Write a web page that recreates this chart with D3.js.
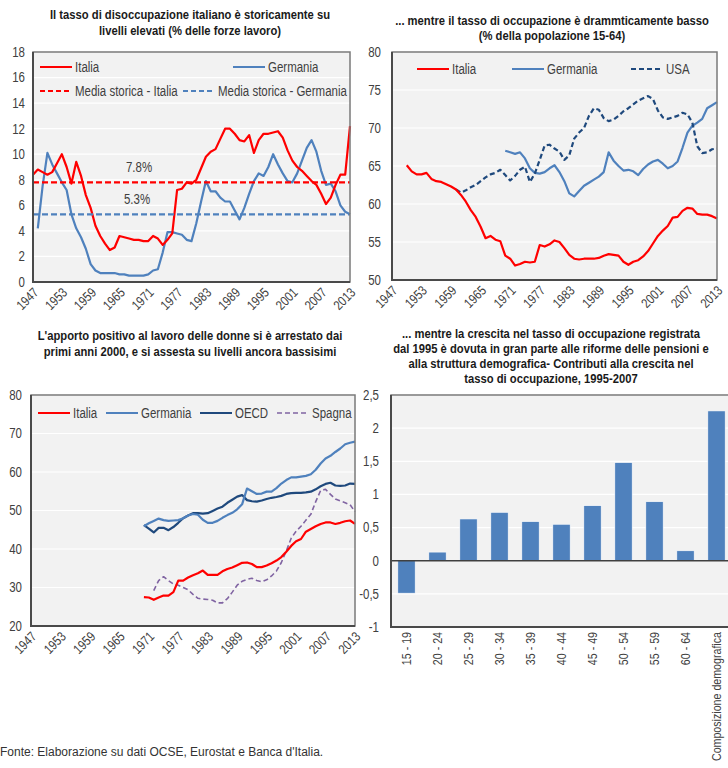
<!DOCTYPE html>
<html><head><meta charset="utf-8">
<script src="https://cdn.jsdelivr.net/npm/d3@7"></script>
<style>
body{margin:0;background:#fff;}
text{font-family:"Liberation Sans",Arial,sans-serif;}
</style></head>
<body>
<script>
// ---------- DATA ----------
const yearTicks = [1947,1953,1959,1965,1971,1977,1983,1989,1995,2001,2007,2013];

// Panel 1: unemployment rate (% labour force)
const unempTicks = [0,2,4,6,8,10,12,14,16,18];
const unempItaliaStart = 1947;
const unempItalia = [8.4,8.8,8.6,8.4,8.6,9.3,10.0,9.0,7.7,9.4,8.3,6.8,5.8,4.4,3.6,3.0,2.5,2.7,3.6,3.5,3.4,3.3,3.3,3.2,3.2,3.6,3.4,2.9,3.3,3.8,7.2,7.3,7.8,7.7,8.0,8.9,9.8,10.2,10.4,11.2,12.0,12.0,11.6,11.1,11.0,11.5,10.1,11.1,11.6,11.6,11.7,11.8,11.3,10.3,9.5,9.0,8.7,8.3,7.9,7.6,6.9,6.1,6.6,7.6,8.4,8.4,12.2];
const unempGermaniaStart = 1948;
const unempGermania = [4.2,7.5,10.1,9.2,8.5,7.8,7.2,5.3,4.2,3.5,2.6,1.4,0.9,0.7,0.7,0.7,0.7,0.6,0.6,0.5,0.5,0.5,0.5,0.6,0.9,1.0,2.3,3.9,3.9,3.8,3.7,3.3,3.2,4.6,6.3,7.9,7.1,7.1,6.6,6.3,6.3,5.6,4.9,5.8,6.9,7.9,8.5,8.3,9.0,10.0,9.2,8.5,7.9,7.8,8.5,9.5,10.5,11.1,10.2,8.7,7.6,7.7,7.1,6.0,5.5,5.3];
const mediaItalia = 7.8;
const mediaGermania = 5.3;

// Panel 2: employment rate (% population 15-64)
const empTicks = [50,55,60,65,70,75,80];
const empItaliaStart = 1950;
const empItalia = [65.1,64.3,63.9,63.9,64.1,63.3,63.0,62.9,62.6,62.3,61.9,61.2,60.3,59.2,58.3,57.0,55.5,55.8,55.3,55.1,53.2,52.8,51.9,52.1,52.4,52.3,52.4,54.6,54.4,54.7,55.2,55.0,54.2,53.3,52.8,52.7,52.8,52.8,52.8,52.9,53.2,53.4,53.3,53.2,52.4,52.0,52.4,52.6,53.1,53.8,54.8,55.8,56.5,57.1,58.2,58.3,59.1,59.5,59.4,58.7,58.6,58.6,58.4,58.1];
const empGermaniaStart = 1970;
const empGermania = [67.0,66.8,66.6,66.8,66.0,64.7,64.1,64.0,64.2,64.7,65.1,64.2,63.0,61.4,61.0,61.7,62.4,62.8,63.2,63.6,64.2,66.8,65.7,65.0,64.4,64.5,64.3,63.8,64.6,65.2,65.6,65.8,65.3,64.7,65.0,65.6,67.4,69.4,70.3,70.7,71.2,72.6,73.0,73.4];
const empUSAStart = 1960;
const empUSA = [61.9,61.5,61.8,62.2,62.5,63.0,63.5,63.9,64.1,64.5,63.8,63.1,63.7,64.5,64.9,62.9,64.0,65.8,67.7,67.8,67.3,66.9,65.8,66.4,68.6,69.4,70.0,71.6,72.6,72.4,71.3,70.9,71.1,71.6,72.2,72.6,73.1,73.6,73.9,74.2,73.8,72.3,71.4,71.2,71.4,71.6,72.0,71.8,70.7,67.6,66.7,66.8,67.2,67.3];

// Panel 3: female employment rate
const womenTicks = [20,30,40,50,60,70,80];
const womenItaliaStart = 1970;
const womenItalia = [27.5,27.4,26.8,27.4,27.9,27.9,28.8,31.8,31.8,32.6,33.2,33.7,34.4,33.3,33.3,33.3,34.2,34.8,35.2,35.8,36.4,36.5,36.1,35.3,35.3,35.7,36.3,37.0,37.9,39.3,40.8,42.0,42.6,44.5,45.2,45.9,46.5,46.9,46.9,46.5,46.8,47.2,47.4,46.5];
const womenGermaniaStart = 1970;
const womenGermania = [45.9,46.7,47.3,47.9,47.5,47.3,47.4,47.5,48.0,48.7,49.1,48.9,47.6,46.8,46.8,47.3,48.1,48.8,49.4,50.3,51.6,55.7,55.0,54.3,54.4,54.9,54.9,55.8,57.0,57.9,58.6,58.6,58.8,59.0,59.4,60.6,62.2,63.5,64.2,65.2,66.1,67.2,67.6,67.9];
const womenOECDStart = 1970;
const womenOECD = [46.2,45.3,44.3,45.5,45.5,44.9,45.7,46.8,48.0,48.7,49.3,49.3,49.2,49.3,49.9,50.5,51.0,52.0,52.8,53.6,54.0,52.7,52.4,52.3,52.6,53.0,53.3,53.5,53.8,54.3,54.5,54.6,54.6,54.7,54.9,55.5,56.3,56.9,57.2,56.5,56.4,56.5,57.0,56.9];
const womenSpagnaStart = 1972;
const womenSpagna = [29.2,31.8,32.8,31.8,30.9,30.6,30.0,29.4,28.2,27.2,27.0,26.9,26.7,26.0,26.0,27.1,28.8,30.6,31.6,32.1,32.4,31.8,31.5,32.0,33.0,34.3,36.5,39.5,42.8,44.6,45.9,47.5,49.0,52.3,55.2,55.5,54.2,53.0,52.5,52.0,51.5,49.7];

// Panel 4: contributions to employment growth, 1995-2007
const barCategories = ["15 - 19","20 - 24","25 - 29","30 - 34","35 - 39","40 - 44","45 - 49","50 - 54","55 - 59","60 - 64","Composizione demografica"];
const barValues = [-0.49,0.13,0.63,0.73,0.59,0.55,0.83,1.48,0.89,0.15,2.26];
const barTicks = [-1,-0.5,0,0.5,1,1.5,2,2.5];

// ---------- DRAW ----------
const RED = "#ff0000", BLUE = "#4f81bd", NAVY = "#1f497d", PURPLE = "#8064a2";
const NARROW = 0.82;
const svg = d3.select("body").append("svg").attr("width",728).attr("height",768);

// condensed text helper (Arial-Narrow look)
function ntext(x, y, str, o={}){
  const g = svg.append("g")
    .attr("transform",`translate(${x},${y})${o.rotate?` rotate(${o.rotate})`:""} scale(${NARROW},1)`);
  return g.append("text").attr("text-anchor",o.anchor||"start").attr("dy",o.dy||null)
    .attr("font-size",o.size||13).attr("font-weight",o.weight||null)
    .attr("fill",o.fill||"#404040").text(str);
}

function title(lines, cx, y0, step){
  lines.forEach((l,i)=>ntext(cx,y0+i*step,l,{anchor:"middle",size:13.7,weight:"bold",fill:"#1a1a1a"}));
}

function framePlot(x0,x1,yT,yB,y,ticks,fmt,labelX){
  const g = svg.append("g");
  g.append("rect").attr("x",x0).attr("y",yT).attr("width",x1-x0).attr("height",yB-yT)
    .attr("fill","#f2f2f2");
  g.selectAll("line.grid").data(ticks).join("line").attr("class","grid")
    .attr("x1",x0).attr("x2",x1).attr("y1",d=>y(d)).attr("y2",d=>y(d))
    .attr("stroke","#ffffff").attr("stroke-width",1.2);
  ticks.forEach(t=>ntext(labelX,y(t),fmt(t),{anchor:"end",dy:"0.35em",size:14}));
}
function border(x0,x1,yT,yB){
  svg.append("rect").attr("x",x0).attr("y",yT).attr("width",x1-x0).attr("height",yB-yT)
    .attr("fill","none").attr("stroke","#7a7a7a").attr("stroke-width",1.5);
  svg.append("path").attr("d",`M${x0},${yT}V${yB}H${x1}`).attr("fill","none")
    .attr("stroke","#4a4a4a").attr("stroke-width",2);
}
function xYears(x,yB){
  yearTicks.forEach(t=>ntext(x(t)+3,yB+8,t,{anchor:"end",dy:"0.35em",size:13.5,rotate:-45}));
}
function series(x,y,start,vals,color,w,dash){
  const line = d3.line().x((d,i)=>x(start+i)).y(d=>y(d));
  svg.append("path").datum(vals).attr("d",line).attr("fill","none")
    .attr("stroke",color).attr("stroke-width",w).attr("stroke-linejoin","round")
    .attr("stroke-dasharray",dash||null);
}
function legendItem(x,y,color,dash,label,w){
  svg.append("line").attr("x1",x).attr("x2",x+32).attr("y1",y).attr("y2",y)
    .attr("stroke",color).attr("stroke-width",w||2).attr("stroke-dasharray",dash||null);
  ntext(x+35,y,label,{dy:"0.35em",size:14});
}

// Panel 1
{
  const x = d3.scaleLinear().domain([1947,2013]).range([33,350]);
  const y = d3.scaleLinear().domain([0,18]).range([282,52]);
  title(["Il tasso di disoccupazione italiano è storicamente su","livelli elevati (% delle forze lavoro)"],190,18.5,16.5);
  framePlot(33,350,52,282,y,unempTicks,d=>d,25);
  series(x,y,unempGermaniaStart,unempGermania,BLUE,2.2);
  series(x,y,unempItaliaStart,unempItalia,RED,2.2);
  svg.append("line").attr("x1",33).attr("x2",350).attr("y1",y(mediaItalia)).attr("y2",y(mediaItalia))
    .attr("stroke",RED).attr("stroke-width",2.2).attr("stroke-dasharray","6,3");
  svg.append("line").attr("x1",33).attr("x2",350).attr("y1",y(mediaGermania)).attr("y2",y(mediaGermania))
    .attr("stroke",BLUE).attr("stroke-width",2.2).attr("stroke-dasharray","6,3");
  ntext(139,y(mediaItalia)-10,mediaItalia.toFixed(1)+"%",{anchor:"middle",size:14});
  ntext(137,y(mediaGermania)-10,mediaGermania.toFixed(1)+"%",{anchor:"middle",size:14});
  border(33,350,52,282);
  xYears(x,282);
  legendItem(40,67,RED,null,"Italia");
  legendItem(233,67,BLUE,null,"Germania");
  legendItem(40,91,RED,"5,3","Media storica - Italia");
  legendItem(183,91,BLUE,"5,3","Media storica - Germania");
}

// Panel 2
{
  const x = d3.scaleLinear().domain([1947,2013]).range([392,717]);
  const y = d3.scaleLinear().domain([50,80]).range([280,52]);
  title(["... mentre il tasso di occupazione è drammticamente basso","(% della popolazione 15-64)"],552,24.5,15.5);
  framePlot(392,717,52,280,y,empTicks,d=>d,381);
  series(x,y,empGermaniaStart,empGermania,BLUE,2.2);
  series(x,y,empUSAStart,empUSA,NAVY,2.2,"5,3");
  series(x,y,empItaliaStart,empItalia,RED,2.2);
  border(392,717,52,280);
  xYears(x,280);
  legendItem(417,69,RED,null,"Italia");
  legendItem(512,69,BLUE,null,"Germania");
  legendItem(631,69,NAVY,"5,3","USA");
}

// Panel 3
{
  const x = d3.scaleLinear().domain([1947,2013]).range([31,355]);
  const y = d3.scaleLinear().domain([20,80]).range([626,395]);
  title(["L'apporto positivo al lavoro delle donne si è arrestato dai","primi anni 2000, e si assesta su livelli ancora bassisimi"],190,339.5,16.5);
  framePlot(31,355,395,626,y,womenTicks,d=>d,22);
  series(x,y,womenSpagnaStart,womenSpagna,PURPLE,1.6,"5,3");
  series(x,y,womenOECDStart,womenOECD,NAVY,2.2);
  series(x,y,womenGermaniaStart,womenGermania,BLUE,2.2);
  series(x,y,womenItaliaStart,womenItalia,RED,2.2);
  border(31,355,395,626);
  xYears(x,626);
  legendItem(38,413,RED,null,"Italia");
  legendItem(106,413,BLUE,null,"Germania");
  legendItem(200,413,NAVY,null,"OECD");
  legendItem(277,413,PURPLE,"5,3","Spagna",1.6);
}

// Panel 4
{
  const x = d3.scaleBand().domain(barCategories).range([391,732]).paddingInner(0.44).paddingOuter(0.22);
  const y = d3.scaleLinear().domain([-1,2.5]).range([627,395]);
  title(["... mentre la crescita nel tasso di occupazione registrata","dal 1995 è dovuta in gran parte alle riforme delle pensioni e","alla struttura demografica- Contributi  alla crescita nel","tasso di occupazione, 1995-2007"],551,337.5,15.3);
  framePlot(391,732,395,627,y,barTicks,d=>String(d).replace(".",","),379);
  svg.append("g").selectAll("rect").data(barValues).join("rect")
    .attr("x",(d,i)=>x(barCategories[i])).attr("width",x.bandwidth())
    .attr("y",d=>y(Math.max(0,d))).attr("height",d=>Math.abs(y(d)-y(0)))
    .attr("fill","#4f81bd").attr("stroke","#ffffff").attr("stroke-width",0.6);
  svg.append("line").attr("x1",391).attr("x2",732).attr("y1",y(0)).attr("y2",y(0))
    .attr("stroke","#404040").attr("stroke-width",1.5);
  border(391,732,395,627);
  barCategories.forEach(c=>ntext(x(c)+x.bandwidth()/2+4.5,632,c,{anchor:"end",size:13,rotate:-90}));
}

// Footer
svg.append("text").attr("x",0).attr("y",756).attr("font-size",12).attr("fill","#333")
  .text("Fonte: Elaborazione su dati OCSE, Eurostat e Banca d'Italia.");
</script>
</body></html>
